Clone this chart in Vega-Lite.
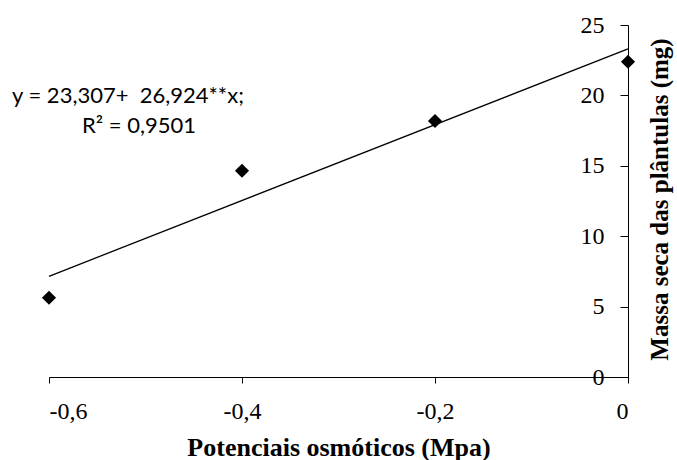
{
  "$schema": "https://vega.github.io/schema/vega-lite/v6.json",
  "autosize": "none",
  "width": 579,
  "height": 352,
  "padding": {"left": 49, "top": 25, "right": 49, "bottom": 83},
  "background": "white",
  "config": {"view": {"stroke": null}},
  "datasets": {
    "pts": [
      {"potencial": -0.6, "massa": 5.63},
      {"potencial": -0.4, "massa": 14.65},
      {"potencial": -0.2, "massa": 18.18},
      {"potencial": 0.0, "massa": 22.39}
    ],
    "fit": [
      {"potencial": -0.6, "massa": 7.153},
      {"potencial": 0.0, "massa": 23.307}
    ],
    "eq": [
      {"label": "equation"}
    ]
  },
  "layer": [
    {
      "data": {"name": "fit"},
      "mark": {"type": "line", "color": "black", "strokeWidth": 1.3},
      "encoding": {
        "x": {
          "field": "potencial", "type": "quantitative",
          "scale": {"domain": [-0.6, 0], "nice": false, "zero": false},
          "axis": {
            "orient": "bottom",
            "values": [-0.6, -0.4, -0.2, 0],
            "labelExpr": "datum.value == 0 ? '0' : '-' + replace(format(abs(datum.value), '.1f'), '.', ',')",
            "grid": false,
            "domainColor": "black",
            "tickColor": "black",
            "tickSize": 6,
            "labelFont": "Liberation Serif",
            "labelFontSize": 24,
            "labelColor": "black",
            "labelPadding": 16,
            "title": "Potenciais osmóticos (Mpa)",
            "titleFont": "Liberation Serif",
            "titleFontSize": 26,
            "titleFontWeight": "bold",
            "titleColor": "black",
            "titleBaseline": "alphabetic",
            "titleY": 78
          }
        },
        "y": {
          "field": "massa", "type": "quantitative",
          "scale": {"domain": [0, 25], "nice": false},
          "axis": {
            "orient": "right",
            "values": [0, 5, 10, 15, 20, 25],
            "grid": false,
            "domainColor": "black",
            "tickColor": "black",
            "tickSize": -8,
            "labelAlign": "right",
            "labelPadding": -16,
            "labelFont": "Liberation Serif",
            "labelFontSize": 24,
            "labelColor": "black",
            "title": "Massa seca das plântulas (mg)",
            "titleFont": "Liberation Serif",
            "titleFontSize": 25,
            "titleFontWeight": "bold",
            "titleColor": "black",
            "titleAngle": 270,
            "titleAlign": "center",
            "titleBaseline": "middle",
            "titleX": 31,
            "titleY": 174
          }
        }
      }
    },
    {
      "data": {"name": "pts"},
      "mark": {"type": "point", "shape": "diamond", "filled": true, "color": "black", "size": 200, "opacity": 1},
      "encoding": {
        "x": {"field": "potencial", "type": "quantitative"},
        "y": {"field": "massa", "type": "quantitative"}
      }
    },
    {
      "data": {"name": "eq"},
      "mark": {
        "type": "text",
        "text": "y = 23,307+\u00a0 26,924**x;",
        "font": "Lato",
        "fontSize": 22,
        "align": "left",
        "baseline": "alphabetic",
        "color": "black"
      },
      "encoding": {
        "x": {"datum": -0.6383},
        "y": {"datum": 19.46}
      }
    },
    {
      "data": {"name": "eq"},
      "mark": {
        "type": "text",
        "text": "R² = 0,9501",
        "font": "Lato",
        "fontSize": 22,
        "align": "left",
        "baseline": "alphabetic",
        "color": "black"
      },
      "encoding": {
        "x": {"datum": -0.5658},
        "y": {"datum": 17.33}
      }
    }
  ]
}
